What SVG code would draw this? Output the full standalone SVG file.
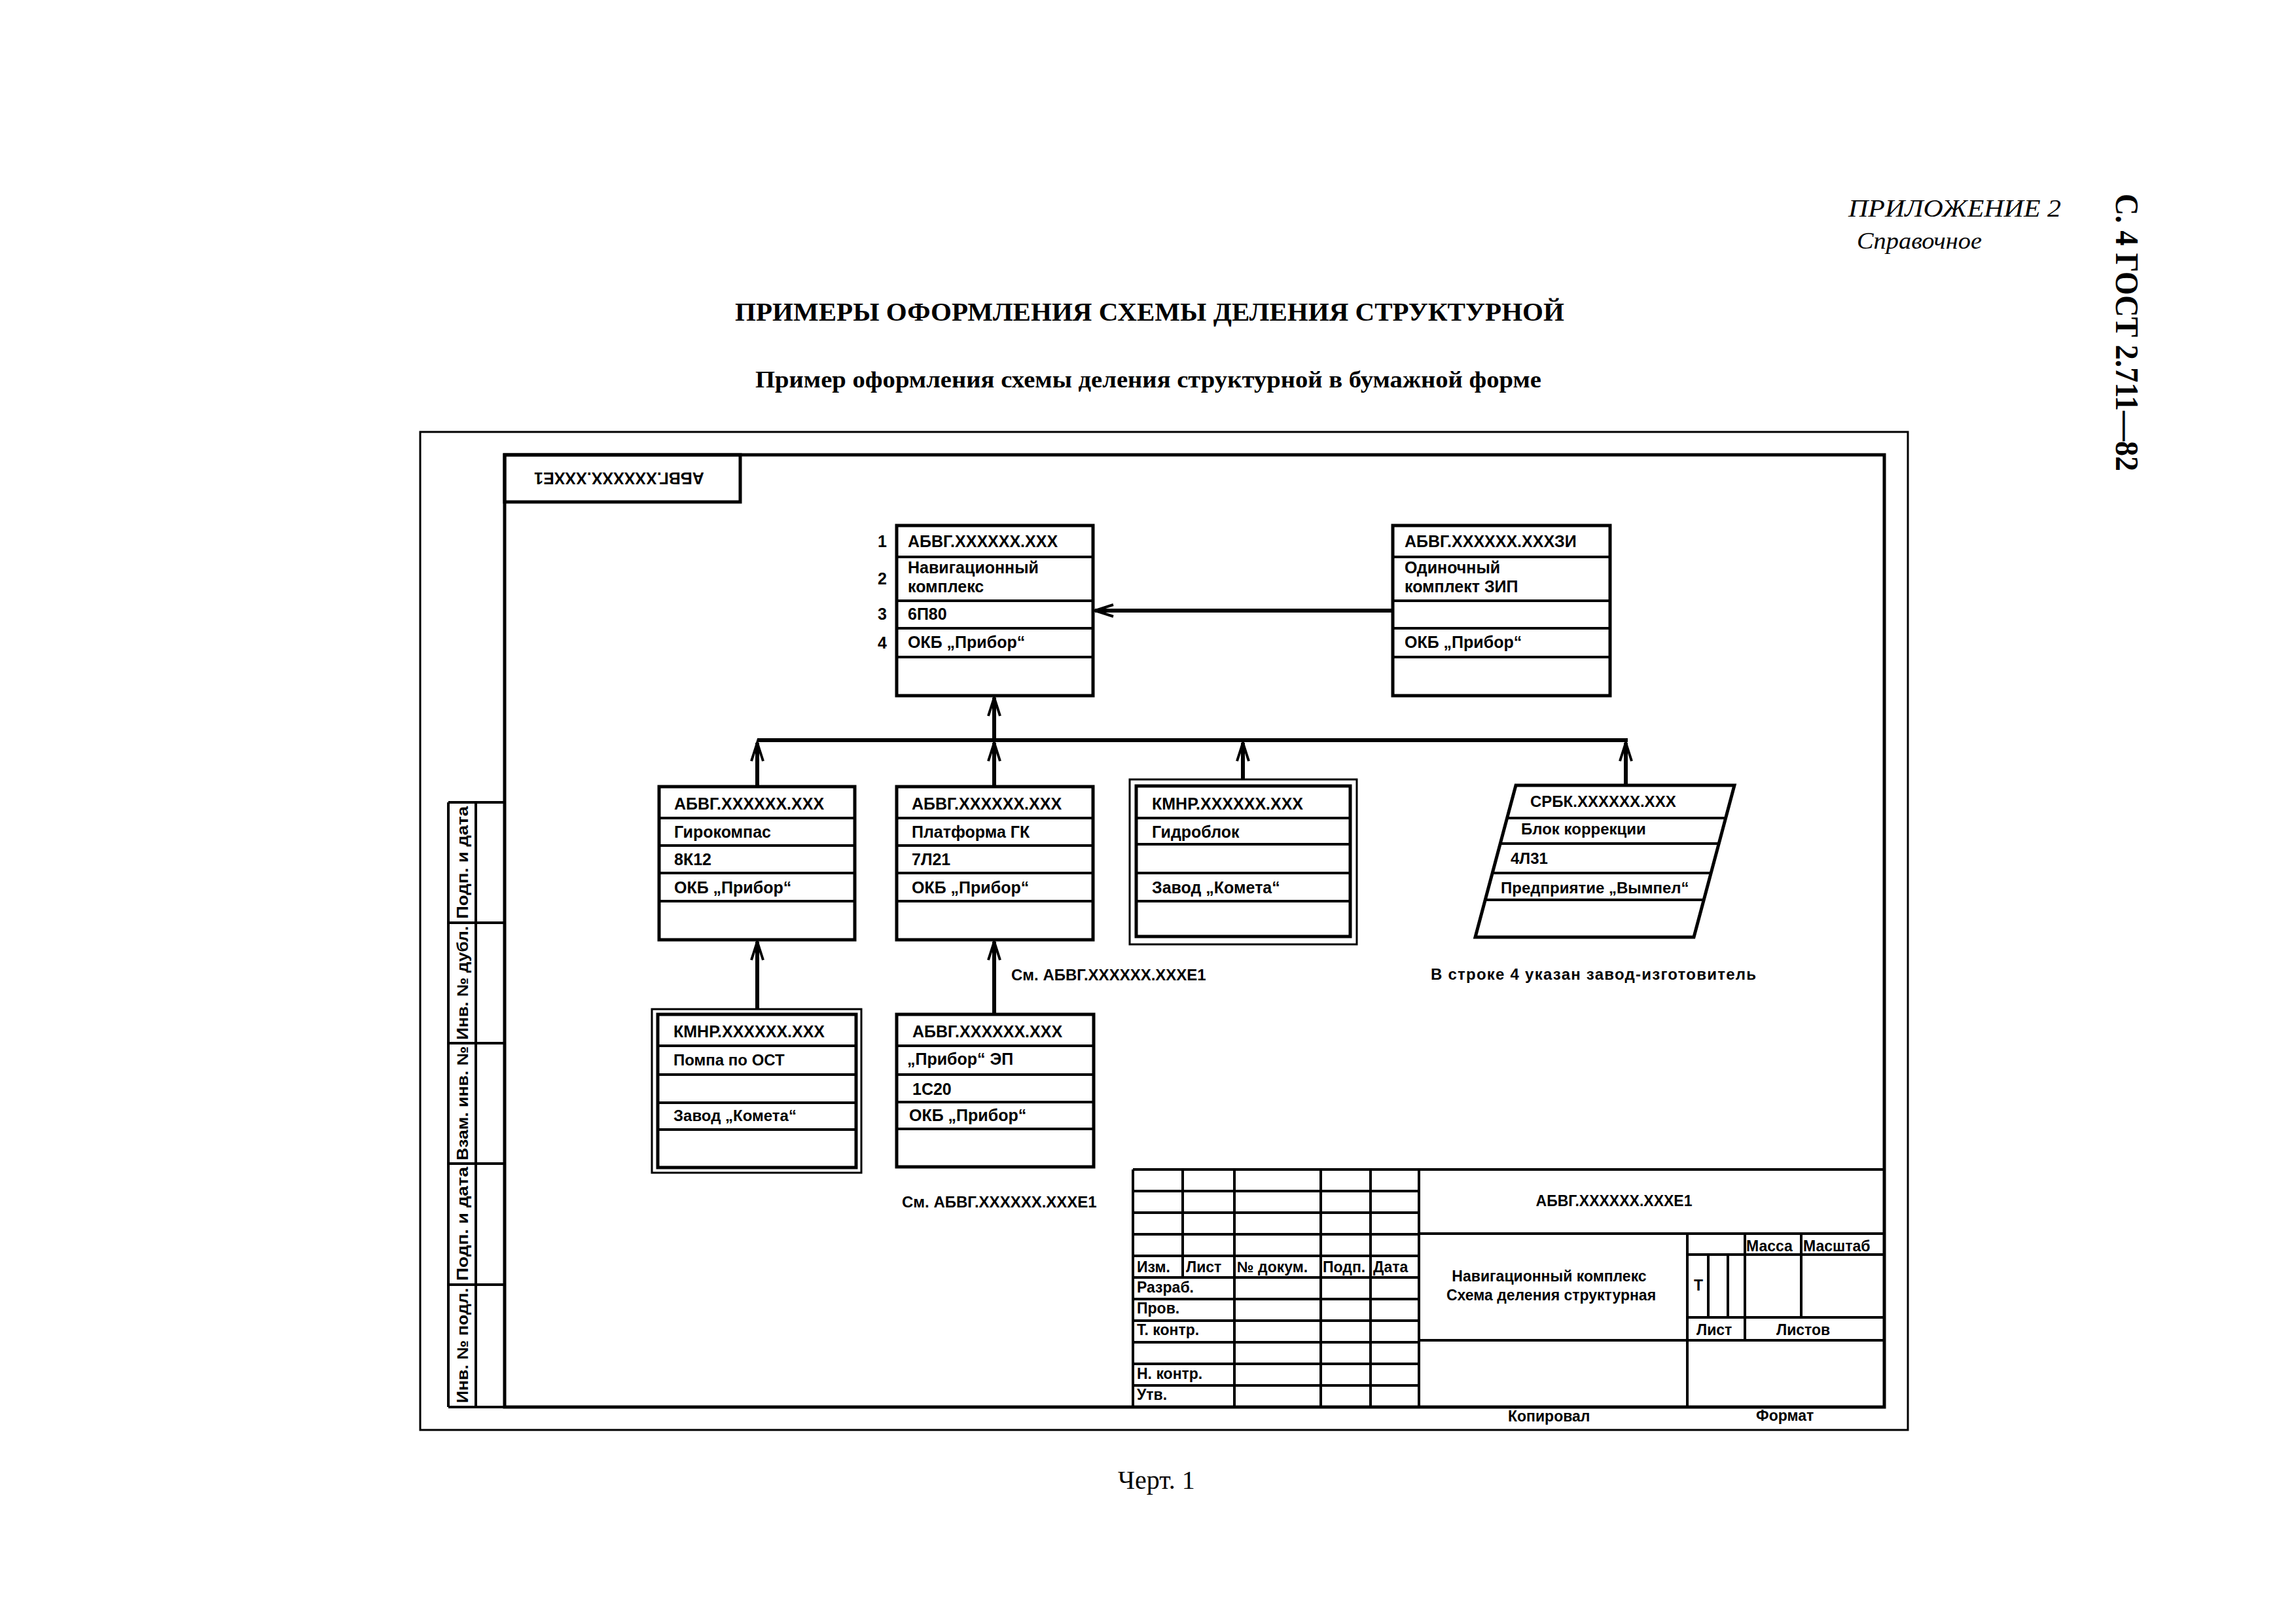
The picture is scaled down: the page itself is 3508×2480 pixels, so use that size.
<svg xmlns="http://www.w3.org/2000/svg" width="3508" height="2480" viewBox="0 0 3508 2480">
<style>
.bg{fill:#fff}
.frame-o{fill:none;stroke:#000;stroke-width:3}
.frame-i{fill:none;stroke:#000;stroke-width:5}
.box{fill:#fff;stroke:#000;stroke-width:5}
.box2{fill:#fff;stroke:#000;stroke-width:3}
.row{stroke:#000;stroke-width:4;fill:none}
.ln{stroke:#000;stroke-width:4;fill:none}
.conn{stroke:#000;stroke-width:6;fill:none}
.t{font-family:"Liberation Sans",Arial,sans-serif;font-weight:bold;font-size:25px;fill:#000}
.tw{font-family:"Liberation Sans",Arial,sans-serif;font-weight:bold;font-size:24px;fill:#000}
.tb{font-family:"Liberation Sans",Arial,sans-serif;font-weight:bold;font-size:23px;fill:#000}
.serif{font-family:"Liberation Serif","Times New Roman",serif;fill:#000}
</style>
<defs>
<marker id="arrow" viewBox="0 0 32 22" refX="30" refY="11" markerWidth="32" markerHeight="22" markerUnits="userSpaceOnUse" orient="auto" overflow="visible">
<path d="M2,2 L30,11 L2,20" fill="none" stroke="#000" stroke-width="4"/>
</marker>
</defs>
<rect class="bg" x="0" y="0" width="3508" height="2480"/>

<!-- page headings -->
<g id="headings">
<text class="serif" x="2824" y="331" font-size="38" font-style="italic" textLength="325" lengthAdjust="spacingAndGlyphs">ПРИЛОЖЕНИЕ 2</text>
<text class="serif" x="2837" y="380" font-size="36" font-style="italic" textLength="191" lengthAdjust="spacingAndGlyphs">Справочное</text>
<text class="serif" transform="translate(3233,296) rotate(90)" font-size="50" font-weight="bold" textLength="424" lengthAdjust="spacingAndGlyphs">С. 4 ГОСТ 2.711—82</text>
<text class="serif" x="1123" y="490" font-size="40" font-weight="bold" textLength="1267" lengthAdjust="spacingAndGlyphs">ПРИМЕРЫ ОФОРМЛЕНИЯ СХЕМЫ ДЕЛЕНИЯ СТРУКТУРНОЙ</text>
<text class="serif" x="1154" y="592" font-size="35" font-weight="bold" textLength="1201" lengthAdjust="spacingAndGlyphs">Пример оформления схемы деления структурной в бумажной форме</text>
<text class="serif" x="1708" y="2275" font-size="40">Черт. 1</text>
</g>

<!-- frames -->
<g id="sheet-frame">
<rect class="frame-o" x="642" y="660" width="2273" height="1525"/>
<rect class="frame-i" x="771" y="695" width="2108" height="1455"/>
</g>

<!-- top-left rotated stamp -->
<g id="corner-stamp">
<rect class="frame-i" x="771" y="695" width="360" height="72"/>
<text class="t" text-anchor="middle" transform="translate(946,731) rotate(180)" y="9">АБВГ.XXXXXX.XXXE1</text>
</g>

<!-- side stamp -->
<g id="side-stamp">
<path class="ln" d="M685,1226 H771 M685,1226 V2150 M727,1226 V2150 M685,1410 H771 M685,1594 H771 M685,1778 H771 M685,1963 H771 M685,2150 H771" stroke-width="5"/>
<text class="tw" text-anchor="middle" transform="translate(715,1318) rotate(-90)" textLength="172" lengthAdjust="spacingAndGlyphs">Подп. и дата</text>
<text class="tw" text-anchor="middle" transform="translate(715,1502) rotate(-90)" textLength="174" lengthAdjust="spacingAndGlyphs">Инв. № дубл.</text>
<text class="tw" text-anchor="middle" transform="translate(715,1686) rotate(-90)" textLength="174" lengthAdjust="spacingAndGlyphs">Взам. инв. №</text>
<text class="tw" text-anchor="middle" transform="translate(715,1870) rotate(-90)" textLength="174" lengthAdjust="spacingAndGlyphs">Подп. и дата</text>
<text class="tw" text-anchor="middle" transform="translate(715,2056) rotate(-90)" textLength="176" lengthAdjust="spacingAndGlyphs">Инв. № подл.</text>
</g>

<!-- connectors -->
<g id="connectors">
<line class="conn" x1="1157" y1="1131" x2="2487" y2="1131" stroke-width="7"/>
<line class="conn" x1="1519" y1="1131" x2="1519" y2="1066" marker-end="url(#arrow)"/>
<line class="conn" x1="2128" y1="933" x2="1673" y2="933" marker-end="url(#arrow)"/>
<line class="conn" x1="1157" y1="1202" x2="1157" y2="1135" marker-end="url(#arrow)"/>
<line class="conn" x1="1519" y1="1202" x2="1519" y2="1135" marker-end="url(#arrow)"/>
<line class="conn" x1="1899" y1="1191" x2="1899" y2="1135" marker-end="url(#arrow)"/>
<line class="conn" x1="2484" y1="1200" x2="2484" y2="1135" marker-end="url(#arrow)"/>
<line class="conn" x1="1157" y1="1542" x2="1157" y2="1439" marker-end="url(#arrow)"/>
<line class="conn" x1="1519" y1="1550" x2="1519" y2="1439" marker-end="url(#arrow)"/>
</g>

<!-- main node -->
<g id="node-main">
<rect class="box" x="1370" y="803" width="300" height="260"/>
<path class="row" d="M1370,851 H1670 M1370,918 H1670 M1370,960 H1670 M1370,1004 H1670"/>
<text class="t" x="1348" y="836" text-anchor="middle">1</text>
<text class="t" x="1348" y="893" text-anchor="middle">2</text>
<text class="t" x="1348" y="947" text-anchor="middle">3</text>
<text class="t" x="1348" y="991" text-anchor="middle">4</text>
<text class="t" x="1387" y="836">АБВГ.XXXXXX.XXX</text>
<text class="t" x="1387" y="876">Навигационный</text>
<text class="t" x="1387" y="905">комплекс</text>
<text class="t" x="1387" y="947">6П80</text>
<text class="t" x="1387" y="990">ОКБ „Прибор“</text>
</g>

<!-- ZIP node -->
<g id="node-zip">
<rect class="box" x="2128" y="803" width="332" height="260"/>
<path class="row" d="M2128,851 H2460 M2128,918 H2460 M2128,960 H2460 M2128,1004 H2460"/>
<text class="t" x="2146" y="836">АБВГ.XXXXXX.XXXЗИ</text>
<text class="t" x="2146" y="876">Одиночный</text>
<text class="t" x="2146" y="905">комплект ЗИП</text>
<text class="t" x="2146" y="990">ОКБ „Прибор“</text>
</g>

<!-- child 1 -->
<g id="node-gyrocompass">
<rect class="box" x="1007" y="1202" width="299" height="234"/>
<path class="row" d="M1007,1250 H1306 M1007,1292 H1306 M1007,1334 H1306 M1007,1377 H1306"/>
<text class="t" x="1030" y="1237">АБВГ.XXXXXX.XXX</text>
<text class="t" x="1030" y="1280">Гирокомпас</text>
<text class="t" x="1030" y="1322">8К12</text>
<text class="t" x="1030" y="1365">ОКБ „Прибор“</text>
</g>

<!-- child 2 -->
<g id="node-platform">
<rect class="box" x="1370" y="1202" width="300" height="234"/>
<path class="row" d="M1370,1250 H1670 M1370,1292 H1670 M1370,1334 H1670 M1370,1377 H1670"/>
<text class="t" x="1393" y="1237">АБВГ.XXXXXX.XXX</text>
<text class="t" x="1393" y="1280">Платформа ГК</text>
<text class="t" x="1393" y="1322">7Л21</text>
<text class="t" x="1393" y="1365">ОКБ „Прибор“</text>
</g>

<!-- child 3 (double frame) -->
<g id="node-hydroblock">
<rect class="box2" x="1726" y="1191" width="347" height="252"/>
<rect class="box" x="1736" y="1201" width="327" height="230"/>
<path class="row" d="M1736,1250 H2063 M1736,1290 H2063 M1736,1334 H2063 M1736,1377 H2063"/>
<text class="t" x="1760" y="1237">КМНР.XXXXXX.XXX</text>
<text class="t" x="1760" y="1280">Гидроблок</text>
<text class="t" x="1760" y="1365">Завод „Комета“</text>
</g>

<!-- child 4 (parallelogram) -->
<g id="node-correction">
<polygon class="box" points="2316,1200 2650,1200 2588,1432 2254,1432"/>
<path class="row" d="M2302.6,1250 H2636.6 M2292.2,1289 H2626.2 M2280.2,1334 H2614.2 M2269.2,1375 H2603.2"/>
<text class="tw" x="2338" y="1233">СРБК.XXXXXX.XXX</text>
<text class="tw" x="2324" y="1275">Блок коррекции</text>
<text class="tw" x="2308" y="1320">4Л31</text>
<text class="tw" x="2293" y="1365">Предприятие „Вымпел“</text>
</g>

<!-- grandchild: pump -->
<g id="node-pump">
<rect class="box2" x="996" y="1542" width="320" height="250"/>
<rect class="box" x="1005" y="1550" width="303" height="234"/>
<path class="row" d="M1005,1598 H1308 M1005,1642 H1308 M1005,1685 H1308 M1005,1726 H1308"/>
<text class="t" x="1029" y="1585">КМНР.XXXXXX.XXX</text>
<text class="tw" x="1029" y="1628">Помпа по ОСТ</text>
<text class="tw" x="1029" y="1713">Завод „Комета“</text>
</g>

<!-- grandchild: EP -->
<g id="node-ep">
<rect class="box" x="1370" y="1550" width="301" height="233"/>
<path class="row" d="M1370,1598 H1671 M1370,1642 H1671 M1370,1684 H1671 M1370,1725 H1671"/>
<text class="t" x="1394" y="1585">АБВГ.XXXXXX.XXX</text>
<text class="t" x="1386" y="1627">„Прибор“ ЭП</text>
<text class="t" x="1394" y="1673">1С20</text>
<text class="t" x="1389" y="1713">ОКБ „Прибор“</text>
</g>

<!-- notes -->
<g id="notes">
<text class="tw" x="1545" y="1498">См. АБВГ.XXXXXX.XXXE1</text>
<text class="tw" x="1378" y="1845">См. АБВГ.XXXXXX.XXXE1</text>
<text class="tw" x="2186" y="1497" textLength="497" lengthAdjust="spacing">В строке 4 указан завод-изготовитель</text>
</g>

<!-- title block -->
<g id="title-block">
<path class="ln" stroke-width="5" d="M1731,1787 H2879 M1731,1787 V2150"/>
<path class="ln" d="M1731,1820 H2168 M1731,1853 H2168 M1731,1886 H2168 M1731,1919 H2168 M1731,1952 H2168 M1731,1985 H2168 M1731,2018 H2168 M1731,2051 H2168 M1731,2084 H2168 M1731,2117 H2168"/>
<path class="ln" d="M1807,1787 V1952 M1886,1787 V2150 M2018,1787 V2150 M2094,1787 V2150"/>
<path class="ln" stroke-width="5" d="M2168,1787 V2150 M2168,1885 H2879 M2168,2048 H2879 M2578,1885 V2150"/>
<path class="ln" d="M2578,1917 H2879 M2578,2013 H2879 M2666,1885 V2048 M2752,1885 V2013 M2610,1917 V2013 M2640,1917 V2013"/>
<text class="tb" x="1737" y="1944">Изм.</text>
<text class="tb" x="1812" y="1944">Лист</text>
<text class="tb" x="1890" y="1944">№ докум.</text>
<text class="tb" x="2021" y="1944">Подп.</text>
<text class="tb" x="2098" y="1944">Дата</text>
<text class="tb" x="1737" y="1975">Разраб.</text>
<text class="tb" x="1737" y="2007">Пров.</text>
<text class="tb" x="1737" y="2040">Т. контр.</text>
<text class="tb" x="1737" y="2107">Н. контр.</text>
<text class="tb" x="1737" y="2139">Утв.</text>
<text class="tb" x="2466" y="1843" text-anchor="middle">АБВГ.XXXXXX.XXXE1</text>
<text class="tb" x="2367" y="1958" text-anchor="middle">Навигационный комплекс</text>
<text class="tb" x="2370" y="1987" text-anchor="middle">Схема деления структурная</text>
<text class="tb" x="2668" y="1912">Масса</text>
<text class="tb" x="2755" y="1912">Масштаб</text>
<text class="tb" x="2588" y="1972">Т</text>
<text class="tb" x="2592" y="2040">Лист</text>
<text class="tb" x="2714" y="2040">Листов</text>
<text class="tb" x="2304" y="2172">Копировал</text>
<text class="tb" x="2683" y="2171">Формат</text>
</g>
</svg>
